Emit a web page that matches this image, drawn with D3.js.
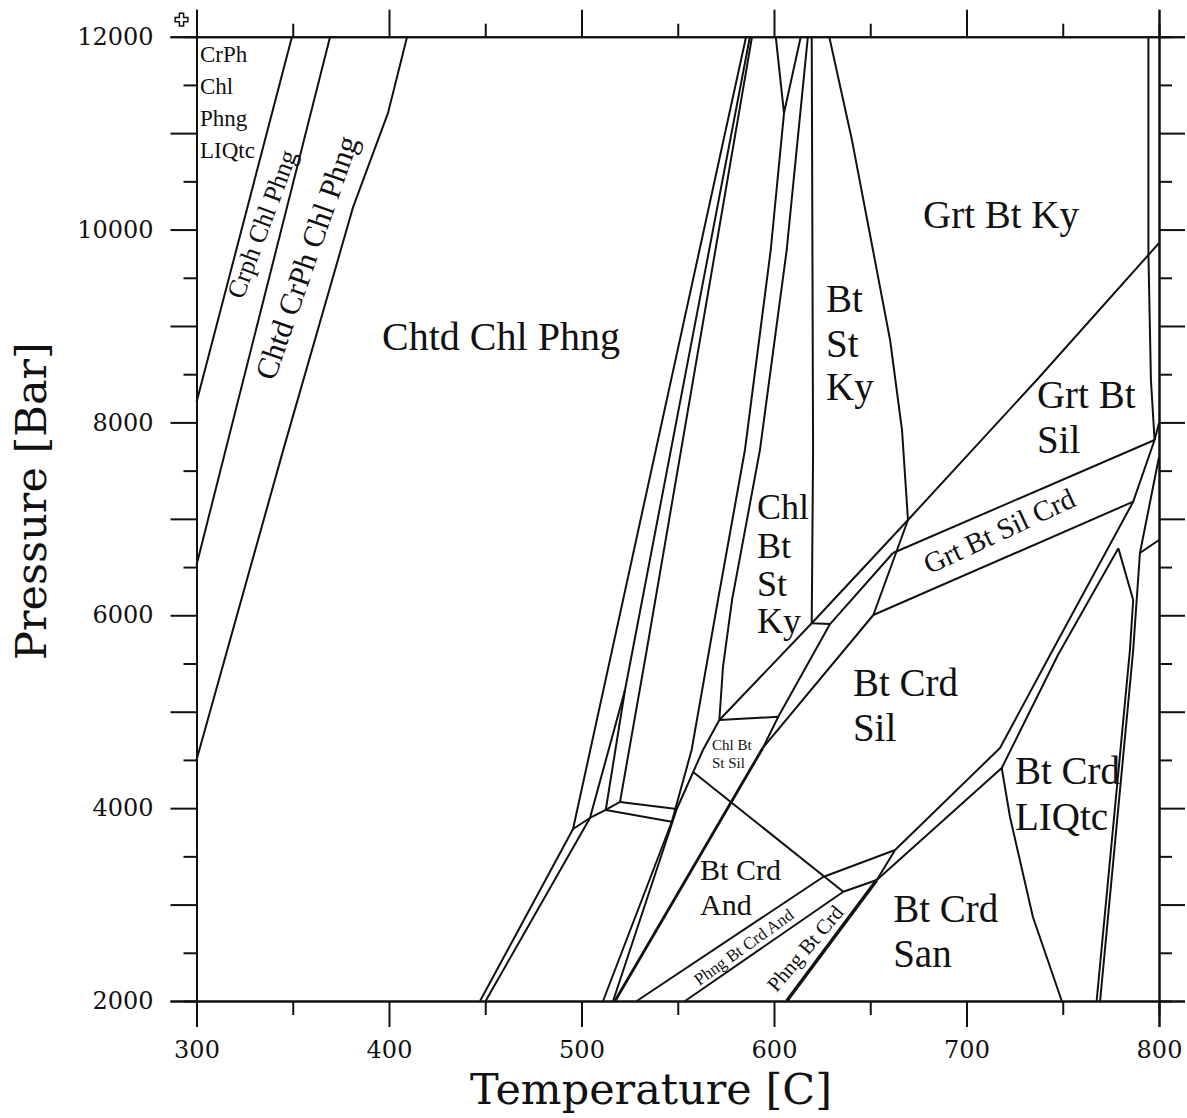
<!DOCTYPE html>
<html>
<head>
<meta charset="utf-8">
<script src="https://cdn.jsdelivr.net/npm/d3@7"></script>
<style>
  body { margin: 0; background: #fff; }
  svg { display: block; }
  .field { font-family: "Liberation Serif", "Times New Roman", serif; fill: #111; }
  .axis text { font-family: "DejaVu Serif", serif; font-size: 24px; fill: #111; }
  .axis path, .axis line { stroke: #111; stroke-width: 2; }
</style>
</head>
<body>
<div id="chart"></div>
<script>
// setup constants
const WIDTH = 1187;
const HEIGHT = 1118;

// axis ticks
const tempTicks = [300, 400, 500, 600, 700, 800];
const presTicks = [2000, 4000, 6000, 8000, 10000, 12000];

// phase boundaries, each line is a list of [T (C), P (bar)]
const crphLines = [
  [[300, 8210], [349.6, 12000]],
  [[300, 6520], [369.4, 12000]],
  [[300, 4500], [345, 7710], [381.3, 10230], [399.5, 11210], [409.4, 12000]]
];

const chtdLines = [
  [[447.3, 2000], [495.6, 3784], [585.5, 12000]],
  [[450.2, 2000], [504.4, 3898], [522.6, 5225], [587.5, 12000]],
  [[495.6, 3784], [504.4, 3898], [512.6, 3981], [520.0, 4064]],
  [[522.6, 5225], [512.6, 3981]],
  [[520.0, 4064], [533.9, 5640], [588.6, 12000]],
  [[520.0, 4064], [549.5, 3991]],
  [[512.6, 3981], [546.9, 3859]]
];

const kyLines = [
  [[600.9, 12000], [605.2, 11208], [613.9, 12000]],
  [[605.2, 11208], [598.3, 9788], [584.9, 7714], [570.9, 6158], [557.2, 4603], [546.9, 3859], [511.2, 2000]],
  [[617.6, 12000], [606.6, 9788], [592.7, 7714], [578.2, 6158], [573.5, 5464], [571.6, 4914], [563.1, 4603], [549.5, 3991], [516.4, 2000]],
  [[619.6, 12000], [620.3, 7714], [619.6, 5917], [629.1, 5909]],
  [[628.7, 12000], [640.5, 10928], [651.4, 9788], [660.3, 8855], [666.5, 7921], [669.6, 6988]],
  [[571.6, 4914], [619.6, 5917], [669.6, 6988], [736.5, 8440], [800, 9860]],
  [[571.6, 4914], [602.2, 4948]],
  [[629.1, 5909], [602.2, 4948], [594.2, 4624]]
];

const silLines = [
  [[629.1, 5909], [661.8, 6646]],
  [[669.6, 6988], [651.6, 6003]],
  [[661.8, 6646], [797.7, 7818]],
  [[651.6, 6003], [786.6, 7178]],
  [[651.6, 6003], [594.2, 4624]],
  [[558.0, 4375], [636.0, 3133]],
  [[528.7, 2000], [625.5, 3286], [662.9, 3566]],
  [[553.8, 2000], [636.0, 3133], [653.4, 3255]],
  [[653.4, 3255], [662.9, 3566]]
];

const thickLines = [
  [[606.6, 2000], [653.4, 3255]],
  [[594.2, 4624], [517.4, 2000]]
];

const meltLines = [
  [[662.9, 3566], [717.4, 4624], [743.4, 5588], [786.6, 7178], [797.7, 7818]],
  [[653.4, 3255], [718.3, 4416], [747.5, 5588], [778.9, 6694]],
  [[794.5, 12000], [794.5, 9757], [795.8, 8440], [797.7, 7818]],
  [[797.7, 7818], [800, 7994]],
  [[778.9, 6694], [786.6, 6158]],
  [[786.6, 6158], [784.9, 5640], [767.6, 2000]],
  [[800, 7641], [790.1, 6646], [786.6, 5640], [769.4, 2000]],
  [[790.1, 6646], [800, 6781]],
  [[718.3, 4416], [722.6, 3908], [734.5, 2871], [749.5, 2000]]
];

// field labels: text, anchor [T, P]
const fieldNames = [
  "Chtd Chl Phng", "Grt Bt Ky", "Bt", "St", "Ky", "Grt Bt", "Sil",
  "Chl", "Bt", "St", "Ky", "Bt Crd", "Sil", "Bt Crd", "LIQtc", "Bt Crd", "San",
  "Bt Crd", "And", "Chl Bt", "St Sil", "CrPh", "Chl", "Phng", "LIQtc"
];
const fieldAt = [
  [396.4, 8751], [677.4, 10016], [627.0, 9145], [627.0, 8678], [627.0, 8232], [736.6, 8149], [736.6, 7683],
  [591.2, 6999], [591.2, 6594], [591.2, 6200], [591.2, 5813], [641.0, 5162], [641.0, 4696], [725.2, 4250], [725.2, 3773], [661.9, 2820], [661.9, 2353],
  [561.6, 3250], [561.6, 2893], [567.8, 4604], [567.8, 4417], [301.8, 11741], [301.8, 11409], [301.8, 11077], [301.8, 10745]
];
const fieldSize = [
  40, 39, 39, 39, 39, 39, 39,
  36, 36, 36, 36, 39, 39, 39, 39, 39, 39,
  30, 30, 15, 15, 23, 23, 23, 23
];

// rotated labels along narrow fields
const slantNames = ["Crph Chl Phng", "Chtd CrPh Chl Phng", "Grt Bt Sil Crd", "Phng Bt Crd And", "Phng Bt Crd"];
const slantAt = [[338.2, 10026], [362.3, 9674], [719.1, 6781], [586.0, 2512], [619.0, 2498]];
const slantAngle = [-69.5, -70.7, -25, -35.7, -49.5];
const slantSize = [26, 31, 29, 17, 21];

// create svg
let svg = d3.select("#chart")
  .append("svg")
  .attr("width", WIDTH)
  .attr("height", HEIGHT);

const x = d3.scaleLinear().domain([300, 800]).range([196.5, 1159]);
const y = d3.scaleLinear().domain([2000, 12000]).range([1001, 36.7]);

const line = d3.line().x(d => x(d[0])).y(d => y(d[1]));

// boundaries
const thin = [].concat(crphLines, chtdLines, kyLines, silLines, meltLines);
svg.append("g")
  .selectAll("path")
  .data(thin)
  .enter()
  .append("path")
  .attr("d", line)
  .attr("fill", "none")
  .attr("stroke", "#111")
  .attr("stroke-width", 2)
  .attr("stroke-linejoin", "round");

svg.append("g")
  .selectAll("path")
  .data(thickLines)
  .enter()
  .append("path")
  .attr("d", line)
  .attr("fill", "none")
  .attr("stroke", "#111")
  .attr("stroke-width", (d, i) => i === 0 ? 3.5 : 2.8);

// axes
const minorT = d3.range(350, 800, 100);
const minorP = d3.range(2500, 12000, 1000);
const majorP = d3.range(2000, 12001, 1000);

svg.append("g").attr("class", "axis")
  .attr("transform", `translate(0,${y(2000)})`)
  .call(d3.axisBottom(x).tickValues(tempTicks).tickSize(26).tickPadding(14).tickFormat(d3.format("d")));
svg.append("g").attr("class", "axis")
  .attr("transform", `translate(0,${y(2000)})`)
  .call(d3.axisBottom(x).tickValues(minorT).tickSize(14).tickFormat(""));
svg.append("g").attr("class", "axis")
  .attr("transform", `translate(0,${y(12000)})`)
  .call(d3.axisTop(x).tickValues(tempTicks).tickSize(27).tickFormat(""));
svg.append("g").attr("class", "axis")
  .attr("transform", `translate(0,${y(12000)})`)
  .call(d3.axisTop(x).tickValues(minorT).tickSize(13).tickFormat(""));

svg.append("g").attr("class", "axis")
  .attr("transform", `translate(${x(300)},0)`)
  .call(d3.axisLeft(y).tickValues(majorP).tickSize(26).tickPadding(17)
    .tickFormat(d => presTicks.includes(d) ? d : ""));
svg.append("g").attr("class", "axis")
  .attr("transform", `translate(${x(300)},0)`)
  .call(d3.axisLeft(y).tickValues(minorP).tickSize(13).tickFormat(""));
svg.append("g").attr("class", "axis")
  .attr("transform", `translate(${x(800)},0)`)
  .call(d3.axisRight(y).tickValues(majorP).tickSize(26).tickFormat(""));
svg.append("g").attr("class", "axis")
  .attr("transform", `translate(${x(800)},0)`)
  .call(d3.axisRight(y).tickValues(minorP).tickSize(13).tickFormat(""));

svg.selectAll(".axis .domain").attr("stroke-width", 2);

// little marker in the corner
svg.append("path")
  .attr("d", d3.symbol(d3.symbolCross, 90))
  .attr("transform", `translate(${x(300) - 15},${y(12000) - 17})`)
  .attr("fill", "#fff")
  .attr("stroke", "#111")
  .attr("stroke-width", 1.5);

// axis titles
svg.append("text")
  .attr("x", 651)
  .attr("y", 1104)
  .attr("text-anchor", "middle")
  .style("font-family", "DejaVu Serif, serif")
  .style("font-size", "43px")
  .attr("fill", "#111")
  .text("Temperature [C]");

svg.append("text")
  .attr("transform", "translate(46,501) rotate(-90)")
  .attr("text-anchor", "middle")
  .style("font-family", "DejaVu Serif, serif")
  .style("font-size", "43px")
  .attr("fill", "#111")
  .text("Pressure [Bar]");

// field labels
svg.append("g")
  .selectAll("text")
  .data(fieldNames)
  .enter()
  .append("text")
  .attr("class", "field")
  .attr("x", (d, i) => x(fieldAt[i][0]))
  .attr("y", (d, i) => y(fieldAt[i][1]))
  .style("font-size", (d, i) => fieldSize[i] + "px")
  .text(d => d);

svg.append("g")
  .selectAll("text")
  .data(slantNames)
  .enter()
  .append("text")
  .attr("class", "field")
  .attr("text-anchor", "middle")
  .attr("transform", (d, i) => `translate(${x(slantAt[i][0])},${y(slantAt[i][1])}) rotate(${slantAngle[i]})`)
  .style("font-size", (d, i) => slantSize[i] + "px")
  .text(d => d);
</script>
</body>
</html>
